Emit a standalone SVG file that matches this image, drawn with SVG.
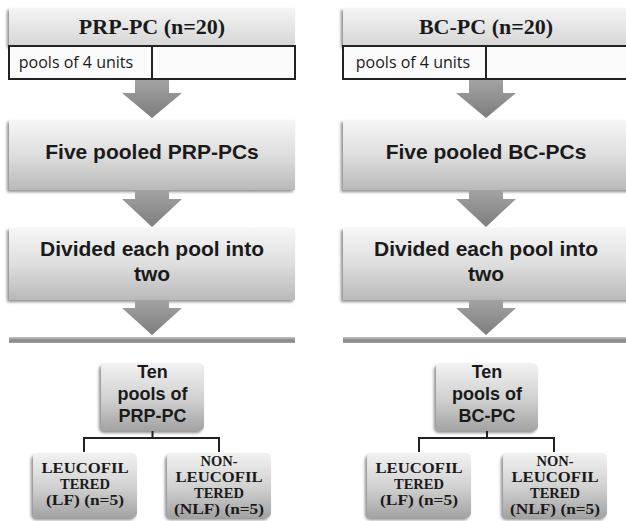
<svg xmlns="http://www.w3.org/2000/svg" width="626" height="521" viewBox="0 0 626 521">
<defs>
<linearGradient id="gBox" x1="0" y1="0" x2="0" y2="1">
<stop offset="0" stop-color="#f6f6f6"/>
<stop offset="0.5" stop-color="#dedede"/>
<stop offset="1" stop-color="#b9b9b9"/>
</linearGradient>
<linearGradient id="gTitle" x1="0" y1="0" x2="0" y2="1">
<stop offset="0" stop-color="#f4f4f4"/>
<stop offset="1" stop-color="#d6d6d6"/>
</linearGradient>
<linearGradient id="gSmall" x1="0" y1="0" x2="0" y2="1">
<stop offset="0" stop-color="#f2f2f2"/>
<stop offset="0.55" stop-color="#cfcfcf"/>
<stop offset="1" stop-color="#a2a2a2"/>
</linearGradient>
<linearGradient id="gArrow" x1="0" y1="0" x2="0" y2="1">
<stop offset="0" stop-color="#a3a3a3"/>
<stop offset="1" stop-color="#7d7d7d"/>
</linearGradient>
<linearGradient id="gBar" x1="0" y1="0" x2="0" y2="1">
<stop offset="0" stop-color="#c8c8c8"/>
<stop offset="0.5" stop-color="#8a8a8a"/>
<stop offset="1" stop-color="#9a9a9a"/>
</linearGradient>
<filter id="sh" x="-10%" y="-10%" width="120%" height="130%">
<feGaussianBlur in="SourceAlpha" stdDeviation="1.5"/>
<feOffset dx="-2" dy="2" result="b"/>
<feComponentTransfer><feFuncA type="linear" slope="0.45"/></feComponentTransfer>
<feMerge><feMergeNode/><feMergeNode in="SourceGraphic"/></feMerge>
</filter>
</defs>
<style>
.big{fill:url(#gBox);filter:url(#sh)}
.ttl{fill:url(#gTitle);filter:url(#sh)}
.sm{fill:url(#gSmall);filter:url(#sh)}
.cell{fill:#fbfbfb;stroke:#222;stroke-width:2}
.arr{fill:url(#gArrow)}
.bar{fill:url(#gBar)}
.conn{fill:none;stroke:#222;stroke-width:2}
.serifB{font-family:"Liberation Serif","Times New Roman",serif;font-weight:bold;fill:#1a1a1a;text-anchor:middle}
.sansB{font-family:"Liberation Sans",Arial,sans-serif;font-weight:bold;fill:#1a1a1a;text-anchor:middle;font-size:21px}
.sans{font-family:"Open Sans","Liberation Sans",sans-serif;fill:#1a1a1a;text-anchor:middle}
.ten{font-family:"Liberation Sans",Arial,sans-serif;font-weight:bold;fill:#1a1a1a;text-anchor:middle;font-size:18px}
.lf{font-size:14.5px}
</style>

<!-- LEFT COLUMN -->
<g id="title-left">
<rect class="ttl" x="9" y="8" width="286" height="38"/>
<text class="serifB" x="152" y="34" font-size="22">PRP-PC (n=20)</text>
</g>
<g id="pools-left">
<rect class="cell" x="9" y="46" width="143" height="33"/>
<rect class="cell" x="152" y="46" width="143" height="33"/>
<text class="sans" x="76" y="68" font-size="16">pools of 4 units</text>
</g>
<g id="five-left">
<rect class="big" x="9" y="120" width="286" height="70"/>
<text class="sansB" x="152" y="159">Five pooled PRP-PCs</text>
</g>
<g id="divided-left">
<rect class="big" x="9" y="228" width="286" height="72"/>
<text class="sansB" x="152" y="256">Divided each pool into</text>
<text class="sansB" x="152" y="281">two</text>
</g>
<g id="ten-left">
<rect class="sm" x="101" y="363" width="103" height="68" rx="5"/>
<text class="ten" x="152.5" y="378">Ten</text>
<text class="ten" x="152.5" y="400">pools of</text>
<text class="ten" x="152.5" y="422">PRP-PC</text>
</g>
<g id="lf-left">
<rect class="sm" x="33" y="453" width="104" height="65" rx="5"/>
<text class="serifB lf" x="85" y="473" textLength="87" lengthAdjust="spacingAndGlyphs">LEUCOFIL</text>
<text class="serifB lf" x="85" y="489">TERED</text>
<text class="serifB lf" x="85" y="505" textLength="78" lengthAdjust="spacingAndGlyphs">(LF) (n=5)</text>
</g>
<g id="nlf-left">
<rect class="sm" x="167" y="453" width="104" height="65" rx="5"/>
<text class="serifB lf" x="219" y="466">NON-</text>
<text class="serifB lf" x="219" y="482" textLength="87" lengthAdjust="spacingAndGlyphs">LEUCOFIL</text>
<text class="serifB lf" x="219" y="498">TERED</text>
<text class="serifB lf" x="219" y="514" textLength="90" lengthAdjust="spacingAndGlyphs">(NLF) (n=5)</text>
</g>

<!-- RIGHT COLUMN -->
<g id="title-right">
<rect class="ttl" x="343" y="8" width="290" height="38"/>
<text class="serifB" x="486" y="34" font-size="22">BC-PC (n=20)</text>
</g>
<g id="pools-right">
<rect class="cell" x="343" y="46" width="143" height="33"/>
<rect class="cell" x="486" y="46" width="150" height="33"/>
<text class="sans" x="413" y="68" font-size="16">pools of 4 units</text>
</g>
<g id="five-right">
<rect class="big" x="343" y="120" width="290" height="70"/>
<text class="sansB" x="486" y="159">Five pooled BC-PCs</text>
</g>
<g id="divided-right">
<rect class="big" x="343" y="228" width="290" height="72"/>
<text class="sansB" x="486" y="256">Divided each pool into</text>
<text class="sansB" x="486" y="281">two</text>
</g>
<g id="ten-right">
<rect class="sm" x="436" y="363" width="102" height="68" rx="5"/>
<text class="ten" x="487" y="378">Ten</text>
<text class="ten" x="487" y="400">pools of</text>
<text class="ten" x="487" y="422">BC-PC</text>
</g>
<g id="lf-right">
<rect class="sm" x="367" y="453" width="104" height="65" rx="5"/>
<text class="serifB lf" x="419" y="473" textLength="87" lengthAdjust="spacingAndGlyphs">LEUCOFIL</text>
<text class="serifB lf" x="419" y="489">TERED</text>
<text class="serifB lf" x="419" y="505" textLength="78" lengthAdjust="spacingAndGlyphs">(LF) (n=5)</text>
</g>
<g id="nlf-right">
<rect class="sm" x="503" y="453" width="104" height="65" rx="5"/>
<text class="serifB lf" x="555" y="466">NON-</text>
<text class="serifB lf" x="555" y="482" textLength="87" lengthAdjust="spacingAndGlyphs">LEUCOFIL</text>
<text class="serifB lf" x="555" y="498">TERED</text>
<text class="serifB lf" x="555" y="514" textLength="90" lengthAdjust="spacingAndGlyphs">(NLF) (n=5)</text>
</g>

<!-- CONNECTORS -->
<g id="connectors">
<polygon class="arr" points="135,80 169,80 169,93 182,93 152,118 122,93 135,93"/>
<polygon class="arr" points="135,190 169,190 169,199 182,199 152,227 122,199 135,199"/>
<polygon class="arr" points="135,300 169,300 169,308 182,308 152,335 122,308 135,308"/>
<rect class="bar" x="9" y="337" width="286" height="6"/>
<polygon class="arr" points="469,80 503,80 503,93 516,93 486,118 456,93 469,93"/>
<polygon class="arr" points="469,190 503,190 503,199 516,199 486,227 456,199 469,199"/>
<polygon class="arr" points="469,300 503,300 503,308 516,308 486,335 456,308 469,308"/>
<rect class="bar" x="343" y="337" width="290" height="6"/>
<path class="conn" d="M152.5,431 V438 M84,452 V438 H219 V452"/>
<path class="conn" d="M487,431 V438 M419,452 V438 H554 V452"/>
</g>
</svg>
